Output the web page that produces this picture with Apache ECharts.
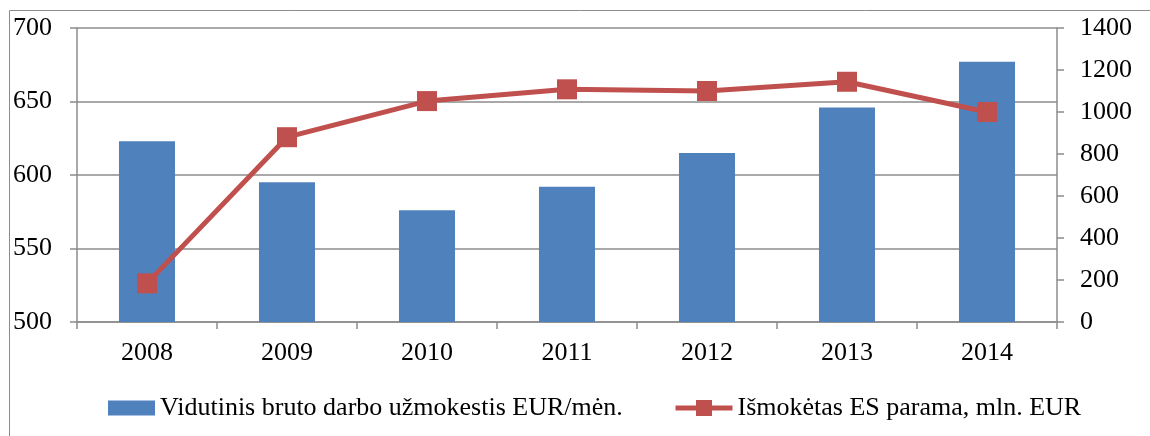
<!DOCTYPE html>
<html><head><meta charset="utf-8">
<script src="https://cdn.jsdelivr.net/npm/echarts@6/dist/echarts.min.js"></script>
<style>html,body{margin:0;padding:0;background:#fff}#c{width:1150px;height:436px}</style>
</head><body><div id="c"></div>
<script>
const categories = ['2008','2009','2010','2011','2012','2013','2014'];
const wageValues = [623, 595, 576, 592, 615, 646, 677];
const supportValues = [184, 880, 1052, 1108, 1100, 1144, 1000];
const leftTicks = {min: 500, max: 700, interval: 50};
const rightTicks = {min: 0, max: 1400, interval: 200};
const wageName = 'Vidutinis bruto darbo užmokestis EUR/mėn.';
const supportName = 'Išmokėtas ES parama, mln. EUR';

const FONT = '"Liberation Serif", "Times New Roman", serif';
const GRAY = '#8c8c8c';
const FS = 26;
const chart = echarts.init(document.getElementById('c'), null, {renderer: 'canvas'});
chart.setOption({
  animation: false,
  backgroundColor: '#fff',
  textStyle: {fontFamily: FONT},
  graphic: [{type: 'rect', shape: {x: 9.5, y: 10.5, width: 1200, height: 500}, style: {fill: 'none', stroke: GRAY, lineWidth: 1}, silent: true, z: -1}],
  grid: {left: 77, right: 93, top: 28, bottom: 114, containLabel: false, outerBoundsMode: 'none'},
  legend: [{
    left: 103, top: 390, itemWidth: 47, itemHeight: 15, itemGap: 5,
    textStyle: {fontFamily: FONT, fontSize: FS, color: '#000', padding: [0,0,0,0]},
    data: [{name: wageName, icon: 'rect'}]
  }, {
    left: 668, top: 390, itemWidth: 57, itemHeight: 20,
    lineStyle: {width: 5},
    textStyle: {fontFamily: FONT, fontSize: FS, color: '#000', padding: [0,0,0,0]},
    data: [{name: supportName}]
  }],
  xAxis: {
    type: 'category', data: categories,
    axisLine: {lineStyle: {color: GRAY, width: 1.5}},
    axisTick: {show: true, length: 7, lineStyle: {color: GRAY, width: 1.5}},
    axisLabel: {fontFamily: FONT, fontSize: FS, color: '#000', margin: 18}
  },
  yAxis: [{
    type: 'value', min: leftTicks.min, max: leftTicks.max, interval: leftTicks.interval,
    axisLine: {show: true, lineStyle: {color: GRAY, width: 1.5}},
    axisTick: {show: true, length: 7, lineStyle: {color: GRAY, width: 1.5}},
    splitLine: {lineStyle: {color: GRAY, width: 1.5}},
    axisLabel: {fontFamily: FONT, fontSize: FS, color: '#000', margin: 64, align: 'left'}
  }, {
    type: 'value', min: rightTicks.min, max: rightTicks.max, interval: rightTicks.interval, position: 'right',
    axisLine: {show: true, lineStyle: {color: GRAY, width: 1.5}},
    axisTick: {show: true, length: 7, lineStyle: {color: GRAY, width: 1.5}},
    splitLine: {show: false},
    axisLabel: {fontFamily: FONT, fontSize: FS, color: '#000', margin: 23, formatter: v => String(v)}
  }],
  series: [{
    name: wageName, type: 'bar', data: wageValues, barWidth: 56,
    itemStyle: {color: '#4F81BD'}
  }, {
    name: supportName, type: 'line', yAxisIndex: 1, data: supportValues,
    symbol: 'rect', symbolSize: 20,
    lineStyle: {color: '#C0504D', width: 5},
    itemStyle: {color: '#C0504D'}
  }]
});
</script></body></html>
